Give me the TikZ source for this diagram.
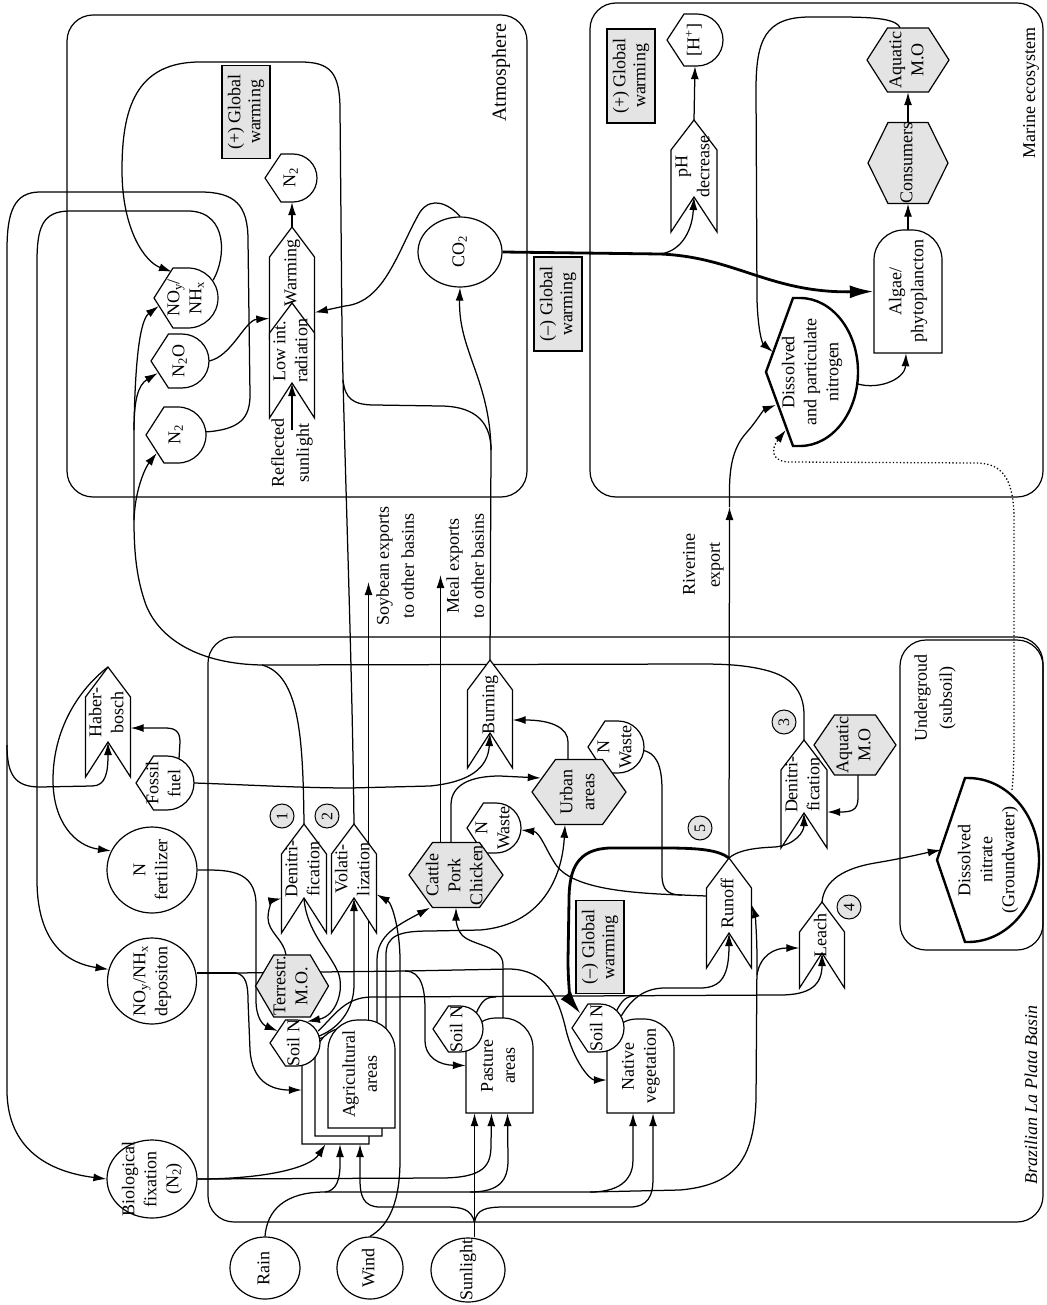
\documentclass[tikz,border=0pt]{standalone}
\usepackage{fontspec}
\setmainfont{Liberation Serif}
\usepackage{graphicx}
\usetikzlibrary{arrows.meta,calc,shapes.geometric}
\definecolor{mogray}{RGB}{228,228,228}
\pgfdeclarelayer{lines}
\pgfsetlayers{lines,main}
\tikzset{
  flow/.style={line width=1.25pt},
  arr/.style={-{Latex[length=13pt,width=8pt]}},
  thickflow/.style={line width=2.8pt,-{Latex[length=24pt,width=13pt]}},
  dotflow/.style={line width=1.3pt,dash pattern=on 1.3pt off 2.2pt},
  shapeline/.style={draw=black,fill=white,line width=1.2pt},
  grayline/.style={draw=black,fill=mogray,line width=1.2pt},
  boxline/.style={draw=black,line width=1.2pt,rounded corners=26pt},
  lbl/.style={inner sep=0pt},
  src/.style={ellipse,draw,fill=white,line width=1.2pt,inner sep=0pt},
  gwbox/.style={draw,fill=mogray,line width=1.2pt,inner sep=0pt},
  numc/.style={circle,draw,fill=mogray,line width=1pt,inner sep=0pt,minimum size=24pt,font=\fontsize{16}{18}\selectfont},
}
\newcommand\rt[1]{\rotatebox{90}{\begin{tabular}{@{}c@{}}#1\end{tabular}}}
% interaction: name, x, tip y, bottom y, half width, text
\newcommand\gatenode[6]{%
  \filldraw[shapeline] (#2,#3) -- (#2+#5,#3+30) -- (#2+#5,#4) -- (#2,#4-35)
    -- (#2-#5,#4) -- (#2-#5,#3+30) -- cycle;
  \coordinate (#1-tip) at (#2,#3);
  \coordinate (#1-notch) at (#2,#4-35);
  \node[lbl,minimum width={2*#5},minimum height={#4-#3}] (#1) at (#2,{(#3+#4)/2}) {};
  \node[lbl] (#1-txt) at (#2,{(#3+#4-35)/2+8}) {\rt{#6}};}
% storage: name, x, y, radius, text
\newcommand\tanknode[5]{%
  \filldraw[shapeline] (#2-#4/2,#3-#4) -- (#2,#3-#4) arc[start angle=-90,end angle=90,radius=#4]
    -- (#2-#4/2,#3+#4) -- (#2-#4-4,#3) -- cycle;
  \node[lbl,minimum width={2*#4+4},minimum height={2*#4}] (#1) at (#2-2,#3) {\rt{#5}};}
% big storage: name, x, y, rx, ry, corner x, point x, text
\newcommand\bigtank[8]{%
  \filldraw[shapeline,line width=2.4pt] (#6,#3-#5) -- (#2,#3-#5)
    arc[start angle=-90,end angle=90,x radius=#4,y radius=#5]
    -- (#6,#3+#5) -- (#7,#3) -- cycle;
  \node[lbl,minimum width={#2+#4-#7},minimum height={2*#5}] (#1) at ({(#7+#2+#4)/2},#3) {\rt{#8}};}
% producer: name, x1, top y, x2, bottom y, text
\newcommand\prodnode[6]{%
  \filldraw[shapeline] (#2,#5) -- (#2,#3+30) arc[start angle=180,end angle=270,radius=30]
    -- (#4-30,#3) arc[start angle=270,end angle=360,radius=30] -- (#4,#5) -- cycle;
  \node[lbl,minimum width={#4-#2},minimum height={#5-#3}] (#1) at ({(#2+#4)/2},{(#3+#5)/2}) {\rt{#6}};}
% consumer: name, x, y, width, height, text
\newcommand\hexnode[6]{%
  \filldraw[grayline] (#2-#4/2,#3) -- (#2-#4/4,#3-#5/2) -- (#2+#4/4,#3-#5/2) -- (#2+#4/2,#3)
    -- (#2+#4/4,#3+#5/2) -- (#2-#4/4,#3+#5/2) -- cycle;
  \node[lbl,minimum width=#4,minimum height=#5] (#1) at (#2,#3) {\rt{#6}};}

\begin{document}
\begin{tikzpicture}[x=1pt,y=-1pt,font=\fontsize{18}{22}\selectfont]
\useasboundingbox (0,0) rectangle (1046,1305);

% region labels
\node[lbl] (atmlbl) at (501,73) {\rotatebox{90}{\fontsize{20}{24}\selectfont Atmosphere}};
\node[lbl] (marlbl) at (1031,93) {\rotatebox{90}{Marine ecosystem}};
\node[lbl] (baslbl) at (1031,1095) {\rotatebox{90}{\itshape Brazilian La Plata Basin}};
\node[lbl] (undlbl) at (935,698) {\rt{Undergroud\\[3pt](subsoil)}};
\node[lbl] (soylbl) at (397,566) {\rt{Soybean exports\\[3pt]to other basins}};
\node[lbl] (meallbl) at (467,566) {\rt{Meal exports\\[3pt]to other basins}};
\node[lbl] (rivlbl) at (703,565) {\rt{Riverine\\[3pt]export}};
\node[lbl] (refl) at (292,453) {\rt{Reflected\\[3pt]sunlight}};
\coordinate (soyend) at (368.5,582);
\coordinate (mealend) at (440.5,575);

% sources
\node[src,minimum width=70,minimum height=62,label={center:\rt{Rain}}] (rain) at (265,1268) {};
\node[src,minimum width=66,minimum height=62,label={center:\rt{Wind}}] (wind) at (370,1268) {};
\node[src,minimum width=74,minimum height=64,label={center:\rt{Sunlight}}] (sun) at (468,1270) {};
\node[src,minimum width=90,minimum height=78,label={center:\rt{Biological\\fixation\\(N\textsubscript{2})}}] (biofix) at (152,1179) {};
\node[src,minimum width=89,minimum height=86,label={center:\rt{NO\textsubscript{y}/NH\textsubscript{x}\\depositon}}] (depo) at (152,981) {};
\node[src,minimum width=90,minimum height=86,label={center:\rt{N\\fertilizer}}] (fert) at (152,870) {};
\node[src,minimum width=84,minimum height=70,label={center:\rt{CO\textsubscript{2}}}] (co2) at (460,252) {};

% interactions
\gatenode{warm}{292}{227}{338}{22.5}{Warming}
\gatenode{lowint}{292}{303}{418}{22.5}{Low int.\\radiation}
\gatenode{denitA}{304}{824}{933}{22.5}{Denitri-\\fication}
\gatenode{volat}{354}{824}{933}{22.5}{Volati-\\lization}
\gatenode{burn}{490}{660}{768}{22.5}{Burning}
\gatenode{haber}{108}{667}{777}{22.5}{Haber-\\bosch}
\gatenode{denitB}{804}{740}{848}{23}{Denitri-\\fication}
\gatenode{runoff}{729}{858}{968}{22.5}{Runoff}
\gatenode{leach}{822}{902}{988}{22.5}{Leach}
\gatenode{ph}{694}{120}{232}{23}{pH\\decrease}

% producers
\prodnode{algae}{874}{230}{942}{353}{Algae/\\phytoplancton}
\prodnode{pasture}{466}{1018}{533}{1113}{Pasture\\areas}
\prodnode{native}{607}{1019}{674}{1113}{Native\\vegetation}
\prodnode{agriC}{302}{1036}{369}{1144}{}
\prodnode{agriB}{315}{1028}{382}{1136}{}
\prodnode{agriA}{328}{1020}{395}{1128}{Agricultural\\areas}

% storages
\tanknode{ntwo}{293}{178}{24}{N\textsubscript{2}}
\tanknode{noxa}{188}{298}{30}{NO\textsubscript{y}/\\NH\textsubscript{x}}
\tanknode{ntwoo}{182}{361}{27}{N\textsubscript{2}O}
\tanknode{ntwob}{178}{435}{28}{N\textsubscript{2}}
\tanknode{fossil}{167}{783}{27}{Fossil\\fuel}
\tanknode{hplus}{697}{40}{26}{[H\textsuperscript{+}]}
\tanknode{soilA}{297}{1043}{23}{Soil N}
\tanknode{soilP}{460}{1029}{23}{Soil N}
\tanknode{soilV}{600}{1028}{24}{Soil N}
\tanknode{wasteC}{496}{828}{25}{N\\Waste}
\tanknode{wasteU}{618}{747}{26}{N\\Waste}
\bigtank{dpn}{800}{372}{58}{74}{793}{766}{Dissolved\\and particulate\\nitrogen}
\bigtank{gwn}{968}{860}{71}{82}{965}{937}{Dissolved\\nitrate\\(Groundwater)}

% consumers
\hexnode{terr}{292}{986}{73}{62}{Terrestr.\\M.O.}
\hexnode{cattle}{456}{875}{94}{65}{Cattle\\Pork\\Chicken}
\hexnode{urban}{579}{792}{94}{65}{Urban\\areas}
\hexnode{aquaB}{855}{745}{82}{60}{Aquatic\\M.O}
\hexnode{aquaM}{908}{60}{82}{64}{Aquatic\\M.O}
\hexnode{cons}{908}{163}{80}{81}{Consumers}

% global warming notes
\node[gwbox,minimum width=48,minimum height=93] (gwA) at (246,112) {\rt{(+) Global\\[-2pt]warming}};
\node[gwbox,minimum width=48,minimum height=94] (gwM) at (631,76) {\rt{(+) Global\\[-2pt]warming}};
\node[gwbox,minimum width=48,minimum height=94] (gwC) at (558,304) {\rt{(--) Global\\[-2pt]warming}};
\node[gwbox,minimum width=48,minimum height=93] (gwB) at (600,947) {\rt{(--) Global\\[-2pt]warming}};

% numbered processes
\node[numc] (nA) at (282,816) {\rotatebox{90}{1}};
\node[numc] (nB) at (327,816) {\rotatebox{90}{2}};
\node[numc] (nC) at (784,722) {\rotatebox{90}{3}};
\node[numc] (nD) at (849,907) {\rotatebox{90}{4}};
\node[numc] (nE) at (700,828) {\rotatebox{90}{5}};

\begin{pgfonlayer}{lines}
% system frames
\draw[boxline] (67,15) rectangle (527,497);
\draw[boxline] (590,3) rectangle (1043,497);
\draw[boxline] (208,637) rectangle (1043,1222);
\draw[boxline] (900,640) rectangle (1043,950);

% junctions
\coordinate (jN) at (7,745);
\coordinate (jBurn) at (491,450);
\coordinate (jPH) at (660,254);
\coordinate (riv) at (729.5,507);
\coordinate (jDen) at (262,665);
\coordinate (jUp) at (134,520);
\coordinate (jUpB) at (134,430);
\coordinate (jD) at (236,973);
\coordinate (jRA) at (325,1192);
\coordinate (jRP) at (470,1192);
\coordinate (jRV) at (590,1192);
\coordinate (jRR) at (680,1190);
\coordinate (jRL) at (757,975);
\coordinate (jS) at (474.5,1222);
\coordinate (jW) at (682,895);
\coordinate (gwtop) at (1012,790);

% atmosphere
\draw[flow] ($(ntwob.east)+(-2,-3)$) .. controls (240,430) and (250,418) .. (250,395) -- (248,240)
  .. controls (248,205) and (235,192) .. (200,192) -- (40,192) .. controls (14,192) and (7,212) .. (7,250) -- (jN);
\draw[flow,arr] (jN) -- (7,1090) .. controls (7,1150) and (50,1172) .. (biofix.west);
\draw[flow,arr] (jN) .. controls (7,775) and (15,787) .. (40,787) -- (92,786) .. controls (106,786) and (108,772) .. (haber-notch);
\draw[flow,arr] ($(noxa.east)+(-5,-18)$) .. controls (226,258) and (228,213) .. (190,211) -- (70,211)
  .. controls (42,211) and (37,228) .. (37,262) -- (37,880) .. controls (37,935) and (60,962) .. (depo.165);
\draw[flow,arr] (volat-tip) .. controls (352,650) and (344,450) .. (342,330) -- (340,110)
  .. controls (340,72) and (330,62) .. (300,62) -- (200,62) .. controls (135,62) and (122,110) .. (122,170)
  .. controls (122,230) and (145,262) .. ($(noxa.north)+(-14,4)$);
\draw[flow] (burn-tip) -- (jBurn);
\draw[flow] (jBurn) .. controls (491,418) and (470,406) .. (440,406) -- (375,405) .. controls (352,405) and (345,398) .. (343,380);
\draw[flow,arr] (jBurn) .. controls (490,380) and (458,350) .. (co2.south);
\draw[flow,arr] (co2.north) .. controls (450,205) and (432,195) .. (420,212) .. controls (398,250) and (385,302) .. (345,306) -- ($(warm.east)+(0,30)$);
\draw[flow,arr] (ntwoo.east) .. controls (232,356) and (245,320) .. ($(warm.west)+(0,36)$);
\draw[flow,arr] (warm-tip) -- ($(ntwo.south)+(1,0)$);
\draw[flow,arr] ([yshift=-12pt]refl.north) -- (lowint-notch);
\draw[flow] (denitB-tip) -- (804,715) .. controls (804,690) and (790,676) .. (765,670)
  .. controls (745,665) and (725,664) .. (700,664) -- (jDen);
\draw[flow] (denitA-tip) .. controls (303,740) and (300,675) .. (jDen);
\draw[flow] (jDen) .. controls (200,664) and (160,640) .. (146,605) .. controls (137,580) and (134,555) .. (jUp);
\draw[flow,arr] (jUp) .. controls (135,490) and (145,468) .. ($(ntwob.west)+(11,18)$);
\draw[flow,arr] (jUp) -- (jUpB) .. controls (134,400) and (138,385) .. ($(ntwoo.west)+(7,12)$);
\draw[flow,arr] (jUpB) .. controls (135,360) and (140,320) .. ($(noxa.west)+(5,8)$);

% marine
\draw[thickflow] (co2.east) -- (jPH) .. controls (735,257) and (770,293) .. (algae.west);
\draw[flow,arr] (jPH) .. controls (678,252) and (692,235) .. (ph-notch);
\draw[flow,arr] (ph-tip) -- (hplus.south);
\draw[flow,arr] (algae.north) -- (cons.south);
\draw[flow,arr] (cons.north) -- (aquaM.south);
\draw[flow,arr] ($(aquaM.north)+(-8,0)$) .. controls (895,16) and (860,17) .. (810,17)
  .. controls (765,17) and (756,40) .. (756,90) -- (757,300) .. controls (758,330) and (762,343) .. ($(dpn.west)+(7,-20)$);
\draw[flow,arr] ($(dpn.east)+(-6,10)$) .. controls (875,392) and (905,380) .. ($(algae.south)+(-2,0)$);
\draw[flow,arr] (runoff-tip) -- (riv);
\draw[flow,arr] (riv) -- (729.5,490) .. controls (729.5,458) and (737,443) .. (747,432) .. controls (756,422) and (763,410) .. ($(dpn.west)+(10,33)$);
\draw[dotflow,arr] (gwtop) .. controls (1014,770) and (1014,750) .. (1014,720) -- (1014,520)
  .. controls (1014,475) and (1000,463) .. (975,463) -- (790,462) .. controls (772,462) and (770,450) .. ($(dpn.west)+(20,58)$);

% basin: inputs
\draw[flow,arr] (haber-tip) .. controls (78,690) and (53,730) .. (53,780) .. controls (53,822) and (75,846) .. (fert.155);
\draw[flow,arr] ($(fossil.north)+(14,3)$) -- (180,742) .. controls (180,731) and (175,728) .. (165,728) -- ($(haber.east)+(0,6)$);
\draw[flow,arr] (fossil.east) .. controls (230,784) and (300,788) .. (350,788) -- (430,786) .. controls (470,782) and (488,768) .. (burn-notch);
\draw[flow,arr] (fert.east) .. controls (225,870) and (256,868) .. (256,905) -- (256,1000) .. controls (256,1018) and (263,1025) .. ($(soilA.west)+(8,-12)$);
\draw[flow] ($(depo.east)+(0,-8)$) -- (jD);
\draw[flow,arr] (jD) .. controls (246,975) and (248,985) .. (248,1000) -- (250,1050) .. controls (252,1082) and (272,1090) .. (agriC.west);
\draw[flow,arr] (jD) -- (405,971) .. controls (422,971) and (425,990) .. (425,1010) -- (425,1040) .. controls (425,1058) and (440,1065) .. (pasture.west);
\draw[flow,arr] (405,971) -- (510,969) .. controls (545,970) and (558,995) .. (566,1030) .. controls (574,1062) and (590,1080) .. ($(native.west)+(0,14)$);
\draw[flow,arr] (biofix.east) .. controls (265,1179) and (310,1168) .. ($(agriC.south)+(-10,0)$);
\draw[flow,arr] (biofix.east) -- (440,1178) .. controls (485,1178) and (491,1165) .. (491,1145) -- ($(pasture.south)+(-8,0)$);
\draw[flow] (rain.north) .. controls (267,1210) and (285,1192) .. (jRA) -- (jRP) -- (jRV) -- (jRR);
\draw[flow,arr] (jRA) .. controls (337,1191) and (340,1178) .. (340,1165) -- ($(agriC.south)+(4.5,0)$);
\draw[flow,arr] (jRP) .. controls (500,1192) and (508,1180) .. (508,1160) -- ($(pasture.south)+(8,0)$);
\draw[flow,arr] (jRV) .. controls (625,1192) and (633,1175) .. (633,1160) -- ($(native.south)+(-7.5,0)$);
\draw[flow,arr] (jRR) .. controls (735,1185) and (754,1160) .. (756,1100) -- (757,960) .. controls (757,935) and (755,915) .. ($(runoff.east)+(0,-8)$);
\draw[flow,arr] (jRL) .. controls (760,955) and (775,948) .. ($(leach.west)+(0,3)$);
\draw[flow,arr] ($(sun.north)+(6.5,0)$) -- ($(pasture.south)+(-25,0)$);
\draw[flow,arr] (jS) .. controls (471,1209) and (462,1207) .. (445,1207) -- (380,1207) .. controls (363,1207) and (360,1195) .. (360,1180) -- ($(agriC.south)+(24.5,0)$);
\draw[flow,arr] (jS) .. controls (477,1209) and (486,1207) .. (505,1207) -- (630,1207) .. controls (648,1207) and (653,1195) .. (653,1180) -- ($(native.south)+(12.5,0)$);
\draw[flow,arr] (wind.north) .. controls (390,1225) and (400,1200) .. (400,1160) -- (400,960) .. controls (400,930) and (392,903) .. ($(volat.east)+(0,16)$);

% basin: agriculture and livestock
\draw[flow,arr] ($(terr.north)+(-6,0)$) .. controls (284,940) and (268,932) .. (268,918) .. controls (268,906) and (274,900) .. ($(denitA.west)+(0,20)$);
\draw[flow,arr] (denitA-notch) .. controls (306,930) and (328,950) .. (338,972) .. controls (345,990) and (336,1016) .. ($(soilA.north)+(12,2)$);
\draw[flow,arr] ($(soilA.east)+(-4,-6)$) .. controls (338,1030) and (354,1010) .. (354,985) -- (volat-notch);
\draw[flow,arr] ($(agriA.north)+(7,20)$) -- (soyend);
\draw[flow,arr] ($(agriA.north)+(15.5,15)$) -- (377,960) .. controls (377,935) and (398,925) .. ($(cattle.south)+(-26,0)$);
\draw[flow,arr] ($(agriA.north)+(24.5,15)$) -- (386,955) .. controls (386,935) and (400,931) .. (430,931) -- (480,930)
  .. controls (540,925) and (562,880) .. ($(urban.south)+(-14,0)$);
\draw[flow,arr] ($(pasture.north)+(3.5,15)$) -- (503,965) .. controls (503,945) and (472,946) .. (462,935) .. controls (456,928) and (456,918) .. (cattle.south);
\draw[flow,arr] ($(cattle.north)+(-15.5,10)$) -- (mealend);
\draw[flow,arr] ($(cattle.north)+(-5,5)$) -- (451,805) .. controls (451,785) and (470,776) .. (500,776) -- ($(urban.west)+(9,-14)$);
\draw[flow,arr] ($(urban.north)+(-11,5)$) -- (568,742) .. controls (568,728) and (552,720) .. ($(burn.east)+(0,6)$);
\draw[flow] ($(wasteU.east)+(-3,3)$) .. controls (656,752) and (662,765) .. (662,790) -- (662,875) .. controls (662,890) and (668,895) .. (jW);
\draw[flow] (jW) -- ($(runoff.west)+(0,-17)$);
\draw[flow,arr] (jW) .. controls (620,893) and (572,887) .. (556,865) .. controls (546,850) and (540,832) .. ($(wasteC.east)+(0,2)$);

% basin: soil nitrogen losses
\draw[flow,arr] ($(soilA.east)+(-2,-12)$) .. controls (335,1015) and (345,997) .. (372,997) -- (780,995)
  .. controls (810,995) and (822,985) .. (leach-notch);
\draw[flow] ($(soilP.north)+(18,8)$) .. controls (482,1000) and (486,997) .. (496,997);
\draw[flow] ($(soilV.north)+(18,8)$) .. controls (622,1000) and (626,996) .. (636,996);
\draw[flow,arr] ($(soilV.east)+(-3,-12)$) .. controls (632,998) and (645,988) .. (665,988) -- (700,988)
  .. controls (722,988) and (729,975) .. (runoff-notch);
\draw[thickflow] (runoff-tip) .. controls (718,850) and (700,848) .. (665,848) -- (610,848)
  .. controls (578,849) and (569,868) .. (569,900) -- (568,960) .. controls (568,990) and (572,1003) .. ($(soilV.west)+(9,-14)$);
\draw[flow,arr] (runoff-tip) .. controls (736,852) and (748,848) .. (775,847) .. controls (795,845) and (804,832) .. (denitB-notch);
\draw[flow,arr] ($(aquaB.south)+(3,0)$) -- (858,798) .. controls (858,810) and (852,812) .. (840,812) -- ($(denitB.east)+(0,18)$);
\draw[flow,arr] (leach-tip) .. controls (824,880) and (845,868) .. (875,863) .. controls (905,858) and (925,853) .. ($(gwn.west)+(4,-10)$);
\end{pgfonlayer}
\end{tikzpicture}
\end{document}
